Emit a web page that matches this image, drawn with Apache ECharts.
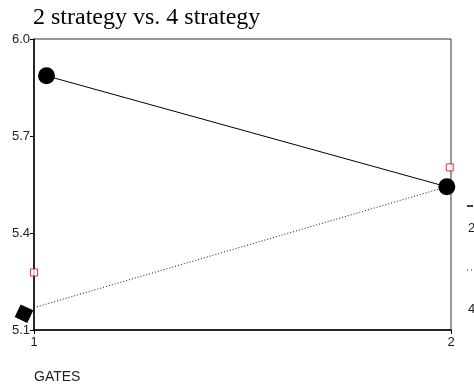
<!DOCTYPE html>
<html>
<head>
<meta charset="utf-8">
<script src="https://cdn.jsdelivr.net/npm/echarts@6/dist/echarts.min.js"></script>
<style>
  html, body { margin: 0; padding: 0; background: #fff; }
  #chart { width: 474px; height: 391px; }
</style>
</head>
<body>
<div id="chart"></div>
<script>
// values
const xTicks = [1, 2]
const yTicks = [5.1, 5.4, 5.7, 6.0]
const seriesNames = ['2 strategy', '4 strategy']
const twoStrategy = [[1.03, 5.886], [1.99, 5.543]]
const fourStrategy = [[1, 5.169], [1.99, 5.543]]
const redMarks = [[1, 5.278], [1.997, 5.603]]

const chart = echarts.init(document.getElementById('chart'))

const sans = 'Liberation Sans, Arial, sans-serif'
const labelFont = { fontFamily: sans, fontSize: 13, color: '#222' }

chart.setOption({
  animation: false,
  title: {
    text: '2 strategy vs. 4 strategy',
    left: 28,
    top: 1,
    textStyle: { fontFamily: 'Liberation Serif, Times New Roman, serif', fontSize: 24, fontWeight: 'normal', color: '#000' }
  },
  grid: { left: 34, right: 23, top: 39, bottom: 61, show: true, borderColor: '#333', borderWidth: 1 },
  xAxis: {
    type: 'value',
    min: xTicks[0],
    max: xTicks[xTicks.length - 1],
    interval: 1,
    name: 'GATES',
    nameLocation: 'start',
    nameGap: 0,
    nameTextStyle: { fontFamily: sans, fontSize: 14, color: '#222', align: 'left', verticalAlign: 'top', padding: [40, 0, 0, 0] },
    axisLine: { lineStyle: { color: '#000', width: 1.5 } },
    axisTick: { show: true, length: 4, lineStyle: { color: '#000' } },
    axisLabel: Object.assign({ margin: 6, showMaxLabel: true }, labelFont),
    splitLine: { show: false }
  },
  yAxis: {
    type: 'value',
    min: yTicks[0],
    max: yTicks[yTicks.length - 1],
    interval: 0.3,
    axisLine: { show: true, lineStyle: { color: '#000', width: 1.5 } },
    axisTick: { show: true, length: 4, lineStyle: { color: '#000' } },
    axisLabel: Object.assign({ margin: 4, formatter: v => v.toFixed(1) }, labelFont),
    splitLine: { show: false }
  },
  series: [
    {
      name: seriesNames[0],
      type: 'line',
      data: twoStrategy,
      symbol: 'circle',
      symbolSize: 17,
      itemStyle: { color: '#000' },
      lineStyle: { color: '#000', width: 1 },
      z: 3
    },
    {
      name: seriesNames[1],
      type: 'line',
      data: fourStrategy.map((p, i) => i === 0
        ? { value: p, symbol: 'rect', symbolSize: 14, symbolRotate: -25, symbolOffset: [-10, 6] }
        : { value: p, symbol: 'none' }),
      itemStyle: { color: '#000' },
      lineStyle: { color: '#111', width: 1, type: [1, 2] },
      clip: false,
      z: 2
    },
    {
      type: 'scatter',
      data: redMarks,
      symbol: 'rect',
      symbolSize: 7,
      itemStyle: { color: '#fff', borderColor: '#e00000', borderWidth: 1 },
      clip: false,
      z: 4
    }
  ],
  graphic: [
    { type: 'line', shape: { x1: 467, y1: 206, x2: 473, y2: 206 }, style: { stroke: '#000', lineWidth: 1.5 } },
    { type: 'text', x: 468, y: 228, style: { text: seriesNames[0], font: '13px Liberation Sans, Arial, sans-serif', fill: '#222', verticalAlign: 'middle' } },
    { type: 'line', shape: { x1: 467, y1: 270, x2: 480, y2: 270 }, style: { stroke: '#222', lineWidth: 1, lineDash: [1, 3] } },
    { type: 'text', x: 468, y: 309, style: { text: seriesNames[1], font: '13px Liberation Sans, Arial, sans-serif', fill: '#222', verticalAlign: 'middle' } }
  ]
})
</script>
</body>
</html>
